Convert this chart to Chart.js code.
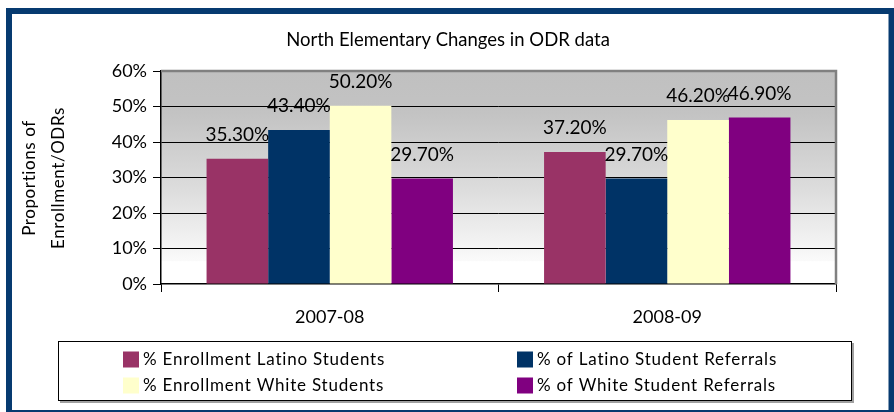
<!DOCTYPE html>
<html>
<head>
<meta charset="utf-8">
<script src="https://cdn.jsdelivr.net/npm/chart.js@4/dist/chart.umd.min.js"></script>
<style>
  html, body { margin: 0; padding: 0; background: #ffffff; }
  #wrap { position: relative; width: 894px; height: 412px; }
  canvas { display: block; }
</style>
</head>
<body>
<div id="wrap"><canvas id="c" width="894" height="412"></canvas></div>
<script>
const chartTitle = 'North Elementary Changes in ODR data';
const yAxisTitle = ['Proportions of', 'Enrollment/ODRs'];
const categories = ['2007-08', '2008-09'];
const seriesNames = [
  '% Enrollment Latino Students',
  '% of Latino Student Referrals',
  '% Enrollment White Students',
  '% of White Student Referrals'
];
const enrollLatino = [35.3, 37.2];
const referralLatino = [43.4, 29.7];
const enrollWhite = [50.2, 46.2];
const referralWhite = [29.7, 46.9];
const seriesColors = ['#993366', '#003366', '#FFFFCC', '#800080'];
const yTicks = [0, 10, 20, 30, 40, 50, 60];

const FONT = 'Lato, "Open Sans", sans-serif';

const decorPlugin = {
  id: 'decor',
  beforeDraw(chart) {
    const { ctx, chartArea: a } = chart;
    ctx.save();
    const g = ctx.createLinearGradient(0, a.top, 0, a.bottom);
    g.addColorStop(0, '#c0c0c0');
    g.addColorStop(0.2, '#c3c3c3');
    g.addColorStop(0.55, '#dcdcdc');
    g.addColorStop(0.89, '#fafafa');
    g.addColorStop(0.895, '#ffffff');
    g.addColorStop(1, '#ffffff');
    ctx.fillStyle = g;
    ctx.fillRect(a.left, a.top, a.right - a.left, a.bottom - a.top);
    ctx.restore();
  },
  afterDatasetsDraw(chart) {
    const { ctx, chartArea: a } = chart;
    ctx.save();
    ctx.strokeStyle = '#808080';
    ctx.lineWidth = 2.5;
    ctx.beginPath();
    ctx.moveTo(a.left, a.top);
    ctx.lineTo(a.right, a.top);
    ctx.lineTo(a.right, a.bottom);
    ctx.stroke();
    ctx.fillStyle = '#000';
    ctx.font = '19px ' + FONT;
    ctx.textAlign = 'center';
    ctx.textBaseline = 'middle';
    chart.data.datasets.forEach((ds, i) => {
      const meta = chart.getDatasetMeta(i);
      meta.data.forEach((el, j) => {
        ctx.fillText(ds.data[j].toFixed(2) + '%', el.x, el.y - 24);
      });
    });
    ctx.restore();
  },
  afterDraw(chart) {
    const { ctx } = chart;
    ctx.save();
    ctx.fillStyle = '#000';
    ctx.font = '18.5px ' + FONT;
    ctx.textAlign = 'center';
    ctx.textBaseline = 'middle';
    ctx.fillText(chartTitle, 448, 40);
    ctx.font = '17px ' + FONT;
    ctx.letterSpacing = '0.6px';
    ctx.translate(0, 178);
    ctx.rotate(-Math.PI / 2);
    ctx.fillText(yAxisTitle[0], 0, 30);
    ctx.fillText(yAxisTitle[1], 0, 59);
    ctx.restore();

    ctx.save();
    ctx.fillStyle = '#a0a0a0';
    ctx.fillRect(60, 401, 793, 2);
    ctx.fillRect(852, 343, 2, 60);
    ctx.fillStyle = '#fff';
    ctx.fillRect(58, 341, 794, 60);
    ctx.strokeStyle = '#000';
    ctx.lineWidth = 1;
    ctx.strokeRect(58.5, 341.5, 793, 59);
    const cols = [123, 517];
    const rows = [359.5, 385.5];
    ctx.font = '17px ' + FONT;
    ctx.letterSpacing = '0.8px';
    ctx.textAlign = 'left';
    ctx.textBaseline = 'middle';
    const order = [[0, 0, 0], [1, 1, 0], [2, 0, 1], [3, 1, 1]];
    order.forEach(([i, c, r]) => {
      ctx.fillStyle = seriesColors[i];
      ctx.fillRect(cols[c], rows[r] - 8, 16, 16);
      ctx.fillStyle = '#000';
      ctx.fillText(seriesNames[i], cols[c] + 20, rows[r]);
    });
    ctx.restore();

    ctx.save();
    ctx.strokeStyle = '#063a70';
    ctx.lineWidth = 6;
    ctx.strokeRect(9, 11, 882.5, 402);
    ctx.restore();
  }
};

const seriesData = [enrollLatino, referralLatino, enrollWhite, referralWhite];

new Chart(document.getElementById('c'), {
  type: 'bar',
  data: {
    labels: categories,
    datasets: seriesNames.map((name, i) => ({
      label: name,
      data: seriesData[i],
      backgroundColor: seriesColors[i],
      borderWidth: 0,
      categoryPercentage: 0.73,
      barPercentage: 1.0
    }))
  },
  options: {
    responsive: false,
    animation: false,
    devicePixelRatio: 1,
    layout: { padding: { left: 0, top: 71, right: 58, bottom: 0 } },
    plugins: {
      legend: { display: false },
      title: { display: false },
      tooltip: { enabled: false }
    },
    scales: {
      x: {
        afterFit(s) { s.height = 128; },
        grid: {
          offset: true,
          drawOnChartArea: false,
          tickLength: 8,
          color: '#000',
          tickColor: '#000'
        },
        border: { color: '#000', width: 1.5 },
        ticks: { color: '#000', font: { family: FONT, size: 18 }, padding: 14 }
      },
      y: {
        min: 0,
        max: 60,
        afterFit(s) { s.width = 161; },
        afterBuildTicks(s) { s.ticks = yTicks.map(v => ({ value: v })); },
        grid: {
          color: (c) => (c.tick && (c.tick.value === 60 || c.tick.value === 0)) ? 'rgba(0,0,0,0)' : '#000',
          tickColor: '#000',
          tickLength: 8,
          lineWidth: 1
        },
        border: { color: '#000', width: 1.5 },
        ticks: {
          color: '#000',
          font: { family: FONT, size: 18 },
          padding: 6,
          callback: (v) => v + '%'
        }
      }
    }
  },
  plugins: [decorPlugin]
});
</script>
</body>
</html>
